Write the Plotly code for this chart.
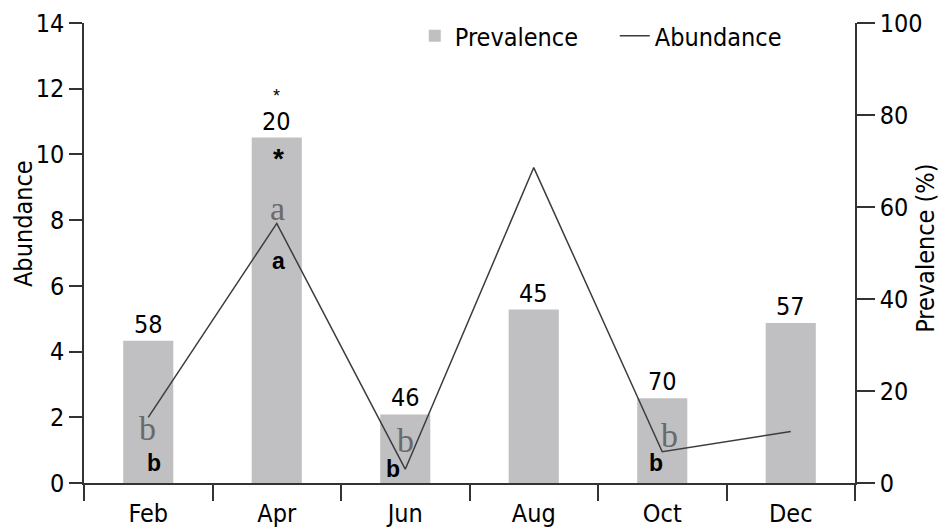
import plotly.graph_objects as go

months = ["Feb", "Apr", "Jun", "Aug", "Oct", "Dec"]
prevalence = [30.9, 75.1, 14.9, 37.7, 18.4, 34.8]
abundance = [2.0, 7.9, 0.42, 9.6, 0.95, 1.57]
sample_sizes = ["58", "20", "46", "45", "70", "57"]

NARROW = "DejaVu Sans Condensed, Liberation Sans Narrow, Arial Narrow, sans-serif"
SERIF = "Liberation Serif, DejaVu Serif, serif"
SANS = "Liberation Sans, Arial, sans-serif"
AX = "#333333"
FS = 25

fig = go.Figure()
fig.add_trace(go.Bar(x=months, y=prevalence, yaxis="y2", name="Prevalence",
                     width=0.39, marker=dict(color="#c0c0c2", line=dict(width=0))))
fig.add_trace(go.Scatter(x=months, y=abundance, yaxis="y3", name="Abundance",
                         mode="lines", line=dict(color="#3c3c3c", width=1.5)))

ann = []
for m, p, n in zip(months, prevalence, sample_sizes):
    ann.append(dict(x=m, y=p, xref="x", yref="y2", text=n, showarrow=False,
                    yanchor="bottom", yshift=0, font=dict(family=NARROW, size=FS, color="black")))

# significance markers
ann.append(dict(x="Apr", y=11.77, xref="x", yref="y", text="*", showarrow=False,
                yshift=0, font=dict(family=SANS, size=18, color="black")))
ann.append(dict(x="Apr", y=10.02, xref="x", yref="y", text="<b>*</b>", showarrow=False,
                xshift=2, yshift=-5, font=dict(family=SANS, size=28, color="black")))
# serif letters (gray)
for m, yv, dx, dy, t in [("Feb", 1.61, -1, 2, "b"), ("Apr", 8.29, 1, 2, "a"),
                         ("Jun", 1.25, 0, 1, "b"), ("Oct", 1.40, 7, 2, "b")]:
    ann.append(dict(x=m, y=yv, xref="x", yref="y", text=t, showarrow=False, xshift=dx, yshift=dy,
                    font=dict(family=SERIF, size=34, color="#6a6a6a")))
# bold letters (black)
for m, yv, dx, dy, t in [("Feb", 0.62, 6, 0, "b"), ("Apr", 6.74, 2, 1, "a"),
                         ("Jun", 0.42, -12, 0, "b"), ("Oct", 0.61, -6, 0, "b")]:
    ann.append(dict(x=m, y=yv, xref="x", yref="y", text="<b>" + t + "</b>", showarrow=False,
                    xshift=dx, yshift=dy, font=dict(family=SANS, size=23, color="black")))

# axis titles
ann.append(dict(x=0, y=0.563, xref="paper", yref="paper", text="Abundance", showarrow=False,
                xanchor="center", yanchor="middle",
                textangle=-90, xshift=-61, font=dict(family=NARROW, size=FS, color="black")))
ann.append(dict(x=1, y=0.509, xref="paper", yref="paper", text="Prevalence (%)", showarrow=False,
                xanchor="center", yanchor="middle",
                textangle=-90, xshift=71, font=dict(family=NARROW, size=FS, color="black")))

fig.update_layout(
    template="none",
    width=941, height=529,
    margin=dict(l=84, r=86, t=23, b=46, autoexpand=False),
    plot_bgcolor="white", paper_bgcolor="white",
    font=dict(family=NARROW, size=FS, color="black"),
    bargap=0.61,
    xaxis=dict(type="category", categoryorder="array", categoryarray=months,
               range=[-0.5, 5.5], showline=True, linecolor=AX, linewidth=1.5,
               ticks="outside", tickson="boundaries", ticklen=16, tickwidth=1.5, tickcolor=AX,
               ticklabelstandoff=7, automargin=False,
               showgrid=False, zeroline=False, tickfont=dict(family=NARROW, size=FS)),
    yaxis=dict(range=[0, 14], dtick=2, tick0=0, showline=True, linecolor=AX, linewidth=1.5,
               ticks="outside", ticklen=13, tickwidth=1.5, tickcolor=AX, automargin=False,
               showgrid=False, zeroline=False, tickfont=dict(family=NARROW, size=FS)),
    yaxis2=dict(range=[0, 100], dtick=20, tick0=0, overlaying="y", side="right",
                showline=True, linecolor=AX, linewidth=1.5, automargin=False,
                ticks="outside", ticklen=18, tickwidth=1.5, tickcolor=AX,
                showgrid=False, zeroline=False, tickfont=dict(family=NARROW, size=FS)),
    yaxis3=dict(range=[0, 14], overlaying="y", visible=False, automargin=False),
    legend=dict(orientation="h", x=0.429, y=1 - 36 / 529, xref="paper", yref="container",
                xanchor="left", yanchor="middle",
                entrywidth=155, entrywidthmode="pixels",
                font=dict(family=NARROW, size=FS), bgcolor="rgba(0,0,0,0)"),
    annotations=ann,
)

fig.write_html("out.html")
